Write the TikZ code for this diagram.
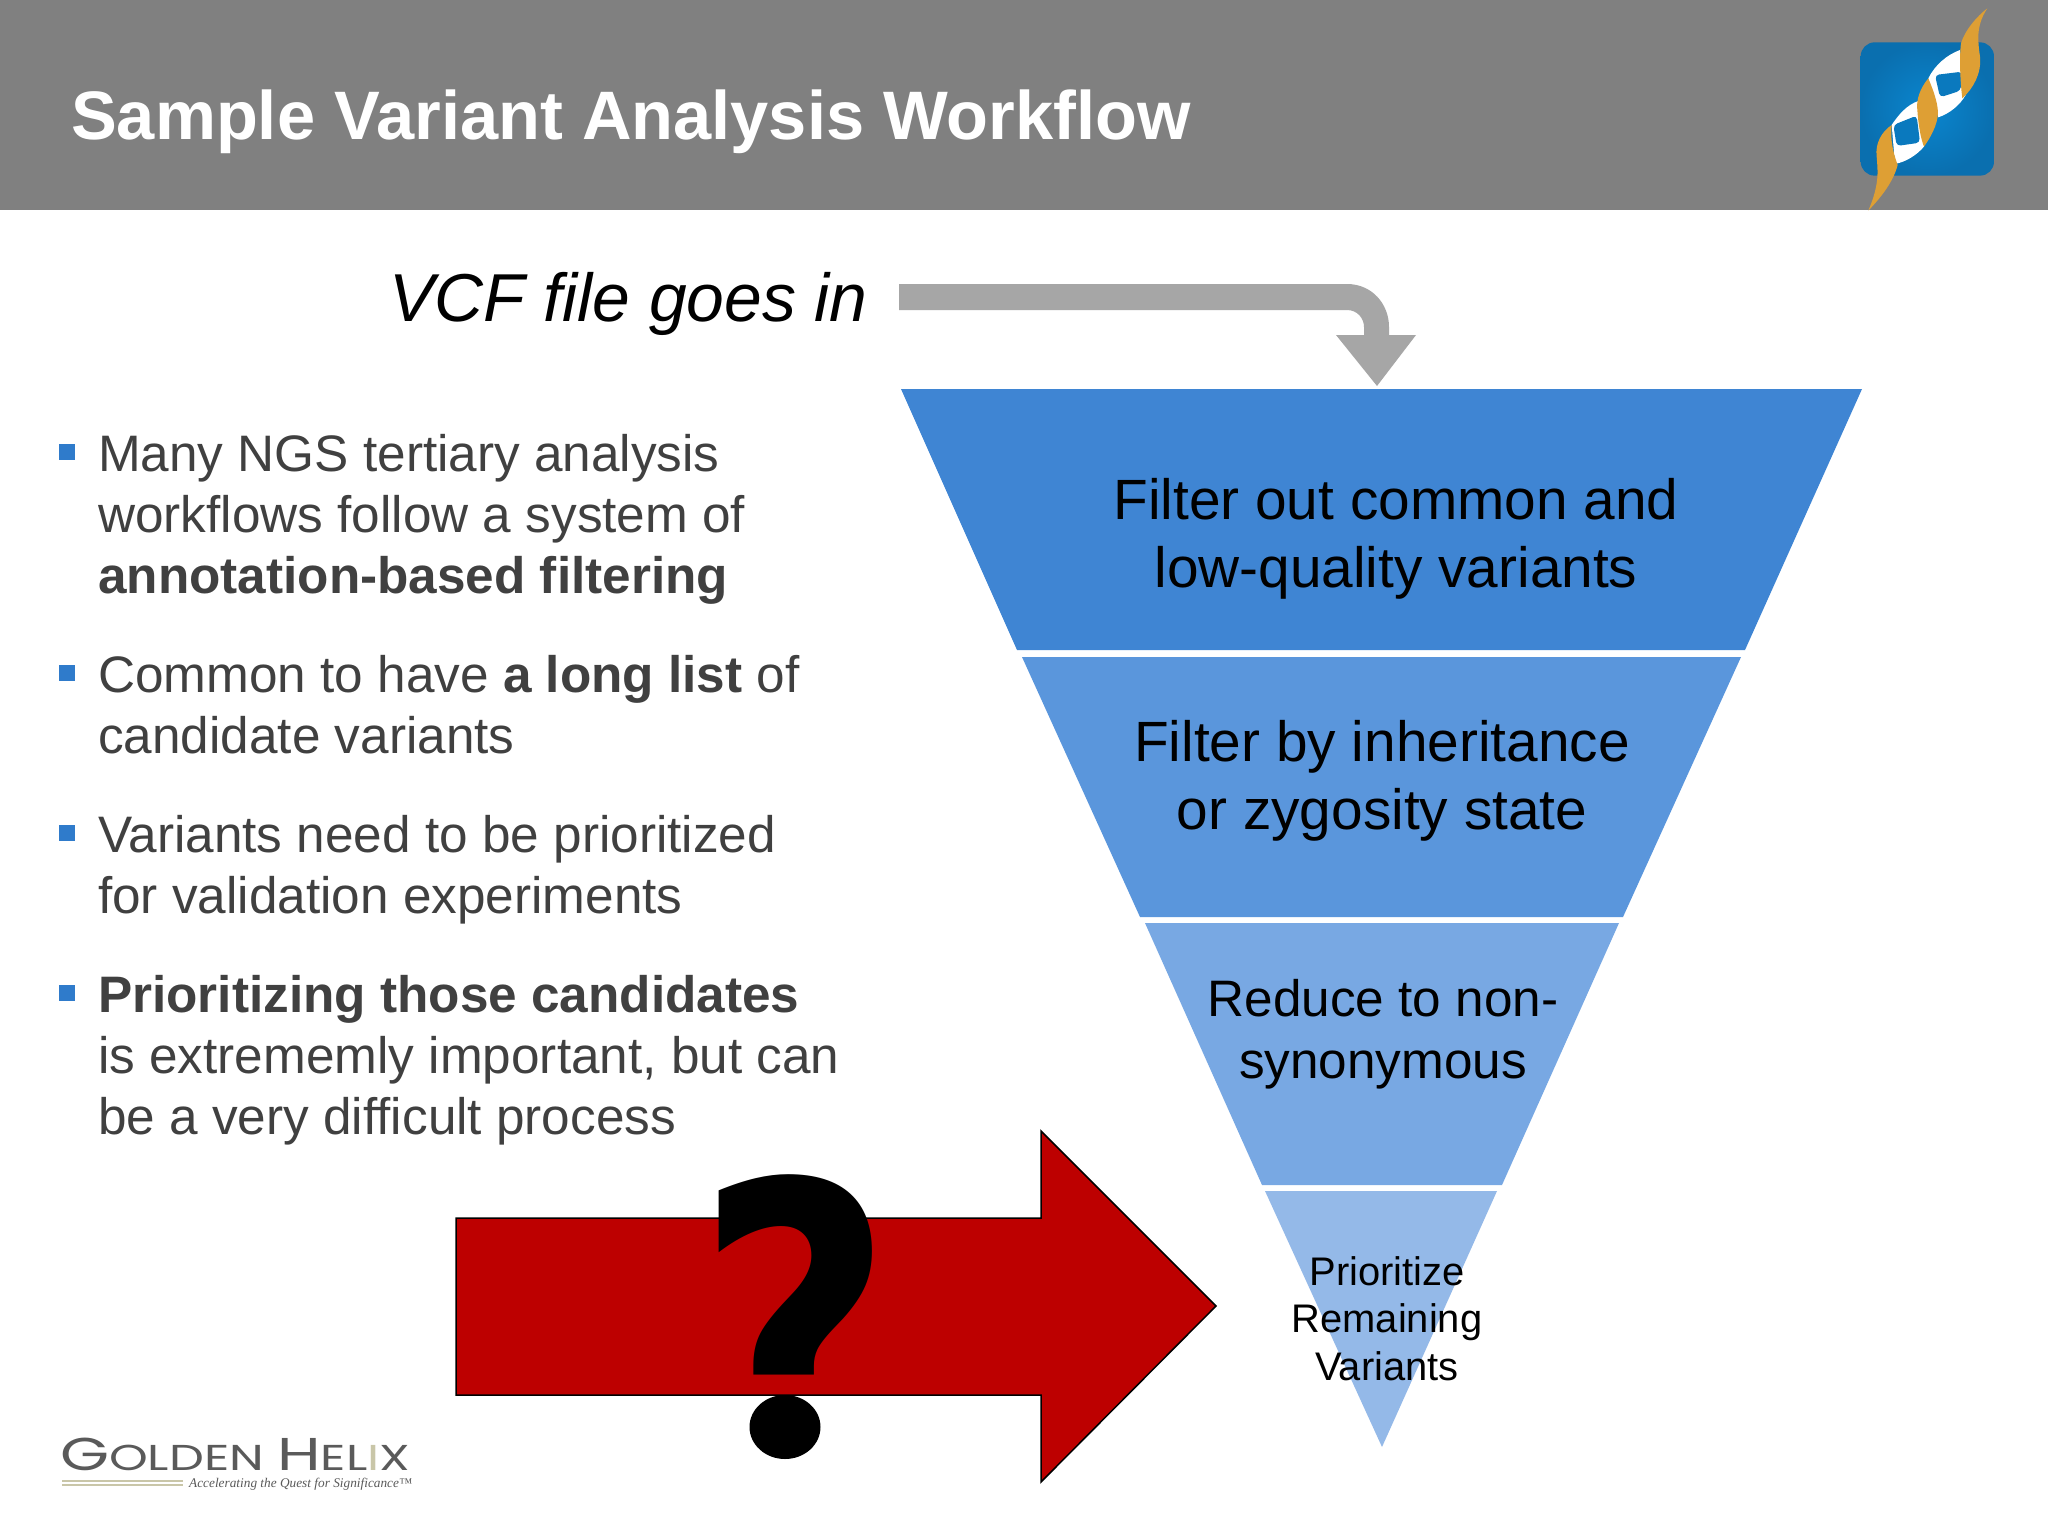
\documentclass[tikz,border=0pt]{standalone}
\usepackage{graphicx}
\usepackage{fontspec}
\setmainfont{Liberation Sans}
\newfontfamily\qfont{DejaVu Sans}
\newfontfamily\ghfont{Poppins}
\newfontfamily\tagfont{Liberation Serif}
\definecolor{hdr}{HTML}{808080}
\definecolor{arrgray}{HTML}{A6A6A6}
\definecolor{bul}{HTML}{2F7BCB}
\definecolor{txt}{HTML}{404040}
\definecolor{fa}{HTML}{3F85D3}
\definecolor{fb}{HTML}{5A96DC}
\definecolor{fc}{HTML}{78A8E3}
\definecolor{fd}{HTML}{94B9E8}
\definecolor{redarr}{HTML}{BD0000}
\definecolor{lbluein}{HTML}{0A86CF}
\definecolor{lblueout}{HTML}{0A6FAF}
\definecolor{lblue}{HTML}{0A79BE}
\definecolor{gold}{HTML}{DE9F34}
\definecolor{ghgray}{HTML}{5A5A5A}
\definecolor{ghline}{HTML}{C9C6A8}
\tikzset{
  bulletsq/.style={fill=bul,draw=none,minimum size=15.5pt,inner sep=0pt},
  bodytext/.style={anchor=base west,inner sep=0pt,text=txt,font=\fontsize{51.3}{61}\selectfont,align=left},
  funnela/.style={anchor=center,inner sep=0pt,align=center,font=\fontsize{56.8}{68}\selectfont},
  funnelb/.style={anchor=center,inner sep=0pt,align=center,font=\fontsize{51.3}{62}\selectfont},
  funnelc/.style={anchor=center,inner sep=0pt,align=center,font=\fontsize{39.9}{47.5}\selectfont},
}
\begin{document}
\begin{tikzpicture}[x=1pt,y=-1pt]
\useasboundingbox (0,0) rectangle (2048,1536);
\fill[white] (0,0) rectangle (2048,1536);
% header
\fill[hdr] (0,0) rectangle (2048,210);
\node[anchor=base west,inner sep=0pt,text=white,font=\fontsize{68.6}{80}\bfseries\selectfont] (title) at (71,140) {Sample Variant Analysis Workflow};
% logo
\begin{scope}[shift={(1800,0)},x=0.3333pt,y=-0.3333pt]
\begin{scope}
\clip[rounded corners=14pt] (182,127) rectangle (582,527);
\shade[inner color=lbluein,outer color=lblueout] (182,127) rectangle (582,527);
\end{scope}
\fill[white] (480,150) .. controls (440,165) and (405,195) .. (385,235) -- (415,352) .. controls (450,340) and (480,315) .. (497,285) -- cycle;
\fill[white] (355,303) .. controls (320,315) and (295,345) .. (275,375) -- (285,492) .. controls (320,485) and (350,465) .. (372,440) -- cycle;
\fill[lblue,rounded corners=4pt] (405,225) -- (487,215) -- (482,272) -- (420,292) -- cycle;
\fill[lblue,rounded corners=4pt] (280,375) -- (350,347) -- (360,428) -- (290,438) -- cycle;
\fill[gold] (562,25) .. controls (530,50) and (495,90) .. (483,130) .. controls (478,170) and (480,240) .. (487,295) .. controls (520,265) and (545,220) .. (540,170) .. controls (535,130) and (525,80) .. (562,25) -- cycle;
\fill[gold] (385,235) .. controls (360,265) and (348,300) .. (352,330) .. controls (355,375) and (362,415) .. (372,440) .. controls (400,400) and (418,360) .. (413,325) .. controls (408,290) and (395,260) .. (385,235) -- cycle;
\fill[gold] (275,375) .. controls (245,395) and (225,430) .. (230,470) .. controls (233,510) and (240,550) .. (205,632) .. controls (245,590) and (280,545) .. (293,495) .. controls (280,460) and (270,420) .. (275,375) -- cycle;
\end{scope}
% VCF
\node[anchor=base west,inner sep=0pt,font=\fontsize{67.8}{80}\itshape\selectfont] (vcf) at (389,321) {VCF file goes in};
% grey arrow
\fill[arrgray] (899,284) -- (1347,284) .. controls (1372,284) and (1389,304) .. (1389,327) -- (1389,335) -- (1416,335) -- (1377,386) -- (1336,335) -- (1364,335) -- (1364,327) .. controls (1364,318) and (1357,310) .. (1347,310) -- (899,310) -- cycle;
% funnel
\fill[fa] (901,389) -- (1862,389) -- (1745,650) -- (1017,650) -- cycle;
\fill[fb] (1022,657) -- (1741,657) -- (1623,917) -- (1140,917) -- cycle;
\fill[fc] (1145,923) -- (1619,923) -- (1502,1185) -- (1262,1185) -- cycle;
\fill[fd] (1265,1191) -- (1497,1191) -- (1382,1447) -- cycle;
\node[funnela] (f1) at (1396,539) {Filter out common and\\low-quality variants};
\node[funnela] (f2) at (1382,781) {Filter by inheritance\\or zygosity state};
\node[funnelb] (f3) at (1383,1034) {Reduce to non-\\synonymous};
\node[funnelc] (f4) at (1387,1318.5) {Prioritize\\Remaining\\Variants};
% bullets
\node[bulletsq] (b1) at (67,452) {};
\node[bulletsq] (b2) at (67,673) {};
\node[bulletsq] (b3) at (67,833) {};
\node[bulletsq] (b4) at (67,993) {};
\node[bodytext] (t1a) at (98,471) {Many NGS tertiary analysis};
\node[bodytext] (t1b) at (98,532) {workflows follow a system of};
\node[bodytext] (t1c) at (98,593.5) {\bfseries annotation-based filtering};
\node[bodytext] (t2a) at (98,692) {Common to have \textbf{a long list} of};
\node[bodytext] (t2b) at (98,753.5) {candidate variants};
\node[bodytext] (t3a) at (98,852) {Variants need to be prioritized};
\node[bodytext] (t3b) at (98,913) {for validation experiments};
\node[bodytext] (t4a) at (98,1012) {\bfseries Prioritizing those candidates};
\node[bodytext] (t4b) at (98,1073) {is extrememly important, but can};
\node[bodytext] (t4c) at (98,1134.5) {be a very difficult process};
% red arrow
\draw[fill=redarr,draw=black,line width=1.5pt] (456,1218) -- (1041,1218) -- (1041,1131) -- (1216,1306) -- (1041,1482) -- (1041,1395) -- (456,1395) -- cycle;
\begin{scope}
\clip (650,1120) rectangle (950,1389);
\node[anchor=base,inner sep=0pt,font=\qfont\fontsize{404}{404}\bfseries\selectfont] (q) at (795,1474) {\scalebox{0.85}[1]{?}};
\end{scope}
\fill[black] (785,1427) ellipse[x radius=35.5,y radius=32];
% logo bottom
\node[anchor=base west,inner sep=0pt,text=ghgray,font=\ghfont\fontsize{46}{46}\selectfont] (gh) at (60,1470) {\scalebox{1.37}[1]{G\fontsize{36}{36}\selectfont OLDEN\ \fontsize{46}{46}\selectfont H\fontsize{36}{36}\selectfont EL\textcolor{ghline}{I}X}};
\fill[ghline] (62,1480) rectangle (183,1482);
\fill[ghline] (62,1484) rectangle (183,1486);
\node[anchor=base west,inner sep=0pt,text=ghgray,font=\tagfont\fontsize{13.3}{14}\itshape\selectfont] (tag) at (189,1487) {Accelerating the Quest for Significance™};
\end{tikzpicture}
\end{document}
